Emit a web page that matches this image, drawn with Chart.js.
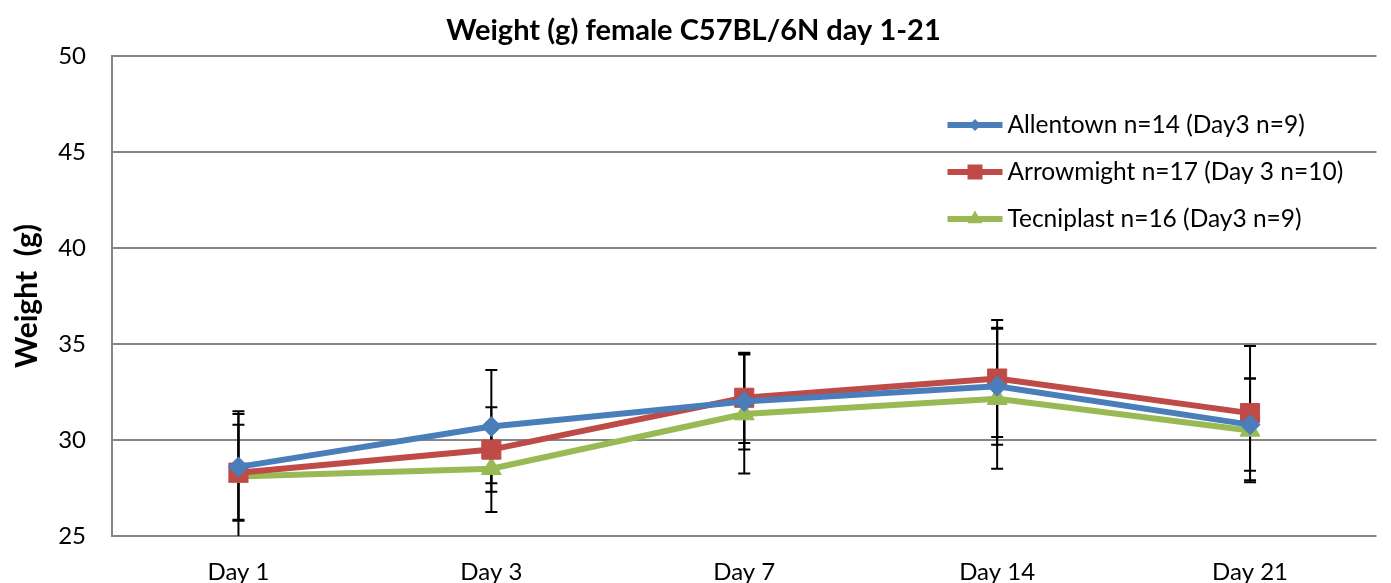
<!DOCTYPE html>
<html lang="en">
<head>
<meta charset="UTF-8">
<title>Weight (g) female C57BL/6N day 1-21</title>
<script src="https://cdn.jsdelivr.net/npm/chart.js"></script>
<style>
    html, body { margin: 0; padding: 0; background: #fff; }
    .chart-area { position: relative; width: 1391px; height: 583px; }
</style>
</head>
<body>
<div class="chart-area">
    <canvas id="grafico"></canvas>
</div>

<script>
    // dados
    const dias = ['Day 1', 'Day 3', 'Day 7', 'Day 14', 'Day 21'];

    const allentown = [28.6, 30.7, 32.0, 32.8, 30.8];
    const arrowmight = [28.3, 29.5, 32.2, 33.2, 31.4];
    const tecniplast = [28.1, 28.5, 31.35, 32.15, 30.5];

    // desvio (barra de erro, +/-)
    const allentownErro = [2.75, 2.95, 2.5, 3.05, 2.4];
    const arrowmightErro = [2.5, 2.2, 2.35, 3.05, 3.5];
    const tecniplastErro = [3.4, 2.25, 3.1, 3.65, 2.7];

    const yTicks = [25, 30, 35, 40, 45, 50];

    const nomes = [
        'Allentown n=14 (Day3 n=9)',
        'Arrowmight n=17 (Day 3 n=10)',
        'Tecniplast n=16 (Day3 n=9)'
    ];

    const azul = '#4A7EBB';
    const vermelho = '#BE4B48';
    const verde = '#98B954';
    const cinza = '#868686';

    Chart.defaults.font.family = 'Lato, "Open Sans", sans-serif';
    Chart.defaults.color = '#000';

    // barras de erro atrás das linhas
    const barrasErro = {
        id: 'barrasErro',
        beforeDatasetsDraw(chart) {
            const ctx = chart.ctx;
            const area = chart.chartArea;
            const escalaY = chart.scales.y;
            ctx.save();
            ctx.beginPath();
            ctx.rect(area.left, area.top, area.right - area.left, area.bottom - area.top);
            ctx.clip();
            ctx.strokeStyle = '#000';
            ctx.lineWidth = 2;
            chart.data.datasets.forEach((ds, i) => {
                const meta = chart.getDatasetMeta(i);
                meta.data.forEach((ponto, j) => {
                    const v = ds.data[j];
                    const e = ds.erro[j];
                    const topo = escalaY.getPixelForValue(v + e);
                    const base = escalaY.getPixelForValue(v - e);
                    ctx.beginPath();
                    ctx.moveTo(ponto.x, topo);
                    ctx.lineTo(ponto.x, base);
                    ctx.moveTo(ponto.x - 6, topo);
                    ctx.lineTo(ponto.x + 6, topo);
                    ctx.moveTo(ponto.x - 6, base);
                    ctx.lineTo(ponto.x + 6, base);
                    ctx.stroke();
                });
            });
            ctx.restore();
        }
    };

    function desenharMarcador(ctx, estilo, x, y, r) {
        ctx.beginPath();
        if (estilo === 'rectRot') {
            ctx.moveTo(x - r, y);
            ctx.lineTo(x, y - r);
            ctx.lineTo(x + r, y);
            ctx.lineTo(x, y + r);
        } else if (estilo === 'rect') {
            ctx.rect(x - r, y - r, 2 * r, 2 * r);
        } else {
            ctx.moveTo(x, y - r);
            ctx.lineTo(x + r * 0.87, y + r * 0.5);
            ctx.lineTo(x - r * 0.87, y + r * 0.5);
        }
        ctx.closePath();
        ctx.fill();
    }

    // legenda dentro da área do gráfico
    const legendaInterna = {
        id: 'legendaInterna',
        afterDraw(chart) {
            const ctx = chart.ctx;
            const x0 = chart.chartArea.right - 429;
            const y0 = chart.chartArea.top + 69;
            const tamanhos = [6, 7.5, 8.5];
            ctx.save();
            ctx.font = '24.5px Lato, "Open Sans", sans-serif';
            ctx.textBaseline = 'middle';
            chart.data.datasets.forEach((ds, i) => {
                const y = y0 + i * 47;
                ctx.strokeStyle = ds.borderColor;
                ctx.lineWidth = 6;
                ctx.beginPath();
                ctx.moveTo(x0, y);
                ctx.lineTo(x0 + 55, y);
                ctx.stroke();
                ctx.fillStyle = ds.borderColor;
                desenharMarcador(ctx, ds.pointStyle, x0 + 27.5, y, tamanhos[i]);
                ctx.fillStyle = '#000';
                ctx.fillText(ds.label, x0 + 60, y);
            });
            ctx.restore();
        }
    };

    function serie(nome, dados, erro, cor, estilo, raio) {
        return {
            label: nome,
            data: dados,
            erro: erro,
            borderColor: cor,
            backgroundColor: cor,
            borderWidth: 6,
            tension: 0,
            pointStyle: estilo,
            pointRadius: raio,
            pointHoverRadius: raio,
            pointBackgroundColor: cor,
            pointBorderColor: cor,
            pointBorderWidth: 1
        };
    }

    const ctx = document.getElementById('grafico').getContext('2d');

    const graficoChart = new Chart(ctx, {
        type: 'line',
        data: {
            labels: dias,
            datasets: [
                serie(nomes[0], allentown, allentownErro, azul, 'rectRot', 10),
                serie(nomes[1], arrowmight, arrowmightErro, vermelho, 'rect', 13.5),
                serie(nomes[2], tecniplast, tecniplastErro, verde, 'triangle', 11.5)
            ]
        },
        options: {
            responsive: true,
            maintainAspectRatio: false,
            animation: false,
            layout: {
                padding: { left: 0, right: 4, top: 0, bottom: 0 }
            },
            plugins: {
                legend: { display: false },
                tooltip: { enabled: false },
                title: {
                    display: true,
                    text: 'Weight (g) female C57BL/6N day 1-21',
                    font: { size: 29, weight: 'bold' },
                    color: '#000',
                    padding: { top: 13, bottom: 8.2 }
                }
            },
            scales: {
                x: {
                    offset: true,
                    grid: { display: false, drawTicks: false },
                    border: { display: false },
                    ticks: { font: { size: 24 }, padding: 22, color: '#000' },
                    afterFit: (escala) => { escala.height = 47; }
                },
                y: {
                    min: 25,
                    max: 50,
                    afterBuildTicks: (escala) => { escala.ticks = yTicks.map(v => ({ value: v })); },
                    grid: { color: cinza, lineWidth: 2, drawTicks: false },
                    border: { display: true, color: cinza, width: 2 },
                    ticks: { font: { size: 24 }, padding: 26, color: '#000' },
                    title: {
                        display: true,
                        text: 'Weight  (g)',
                        font: { size: 30, weight: 'bold' },
                        color: '#000',
                        padding: { top: 9, bottom: 0 }
                    },
                    afterFit: (escala) => { escala.width = 112; }
                }
            }
        },
        plugins: [barrasErro, legendaInterna]
    });
</script>
</body>
</html>
